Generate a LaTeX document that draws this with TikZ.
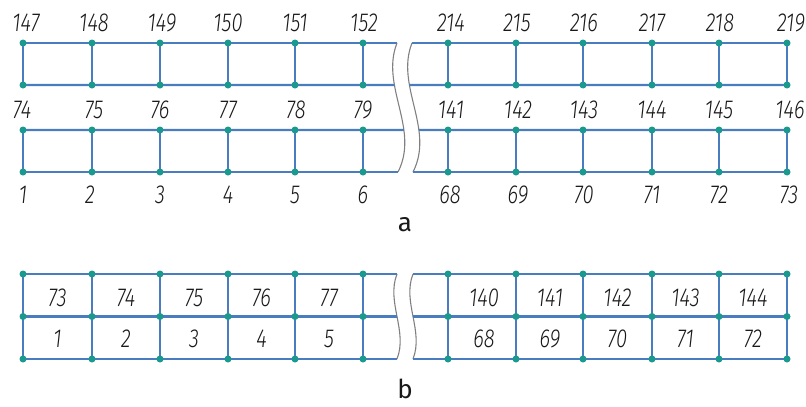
\documentclass[tikz,border=0pt]{standalone}
\usepackage{fontspec}
\setmainfont{Fira Sans}
\newfontfamily\numfont{Fira Sans Light Italic}[FakeStretch=0.78]
\definecolor{gridblue}{HTML}{4A7CC0}
\definecolor{dotteal}{HTML}{1A9A8E}
\definecolor{breakgray}{HTML}{808080}
\tikzset{
  gridline/.style={draw=gridblue, line width=2.2pt},
  brk/.style={draw=breakgray, line width=1.1pt},
  gdot/.style={circle, fill=dotteal, inner sep=0pt, minimum size=7pt},
  num/.style={font=\numfont\fontsize{26}{26}\selectfont, inner sep=0pt, anchor=base, text=black!90},
  figcap/.style={font=\fontsize{26}{26}\selectfont, inner sep=0pt, anchor=base, text=black!90}
}
\begin{document}
\begin{tikzpicture}[x=1pt,y=-1pt]
\useasboundingbox (0,0) rectangle (806,407);

% ---------------- part a: coordinates ----------------
\foreach \x [count=\i] in {23,92,160,228,295,363} {
  \coordinate (aL1-\i) at (\x,43);
  \coordinate (aL2-\i) at (\x,85);
  \coordinate (aL3-\i) at (\x,130);
  \coordinate (aL4-\i) at (\x,172);
}
\foreach \x [count=\i] in {448,516,583,652,719,787} {
  \coordinate (aR1-\i) at (\x,43);
  \coordinate (aR2-\i) at (\x,85);
  \coordinate (aR3-\i) at (\x,130);
  \coordinate (aR4-\i) at (\x,172);
}
% break curves (y linear in parameter)
\draw[brk] (397,43) coordinate (caL1) .. controls (380,86) and (420,129) .. (398,172) coordinate (caL4)
  coordinate[pos=0.3256] (caL2) coordinate[pos=0.6744] (caL3);
\draw[brk] (412,43) coordinate (caR1) .. controls (395,86) and (435,129) .. (413,172) coordinate (caR4)
  coordinate[pos=0.3256] (caR2) coordinate[pos=0.6744] (caR3);

% horizontal lines
\foreach \r in {1,2,3,4} {
  \draw[gridline] (aL\r-1) -- (caL\r);
  \draw[gridline] (caR\r) -- (aR\r-6);
}
% vertical lines
\foreach \i in {1,...,6} {
  \draw[gridline] (aL1-\i) -- (aL2-\i);
  \draw[gridline] (aL3-\i) -- (aL4-\i);
  \draw[gridline] (aR1-\i) -- (aR2-\i);
  \draw[gridline] (aR3-\i) -- (aR4-\i);
}
% dots
\foreach \r in {1,2,3,4} \foreach \i in {1,...,6} {
  \node[gdot] at (aL\r-\i) {};
  \node[gdot] at (aR\r-\i) {};
}
% labels a
\foreach \x/\t in {26/147,94/148,162/149,228/150,295/151,364/152,
                   451/214,517/215,584/216,652/217,720/218,791/219} {
  \node[num] (ta\t) at (\x,31) {\t};
}
\foreach \x/\t in {22/74,94/75,160/76,228/77,296/78,363/79,
                   451/141,518/142,584/143,652/144,719/145,790/146} {
  \node[num] (ma\t) at (\x,118) {\t};
}
\foreach \x/\t in {23/1,90/2,160/3,228/4,295/5,363/6,
                   450/68,518/69,584/70,652/71,719/72,789/73} {
  \node[num] (ba\t) at (\x,203) {\t};
}
\node[figcap] (capa) at (405,231) {a};

% ---------------- part b ----------------
\foreach \x [count=\i] in {23,92,160,228,295,363} {
  \coordinate (bL1-\i) at (\x,274);
  \coordinate (bL2-\i) at (\x,316.5);
  \coordinate (bL3-\i) at (\x,359);
}
\foreach \x [count=\i] in {448,516,583,652,719,787} {
  \coordinate (bR1-\i) at (\x,274);
  \coordinate (bR2-\i) at (\x,316.5);
  \coordinate (bR3-\i) at (\x,359);
}
\draw[brk] (397,274) coordinate (cbL1) .. controls (386,302) and (408,331) .. (397,359) coordinate (cbL3)
  coordinate[pos=0.5] (cbL2);
\draw[brk] (413,274) coordinate (cbR1) .. controls (402,302) and (424,331) .. (413,359) coordinate (cbR3)
  coordinate[pos=0.5] (cbR2);
\foreach \r in {1,2,3} {
  \draw[gridline] (bL\r-1) -- (cbL\r);
  \draw[gridline] (cbR\r) -- (bR\r-6);
}
\foreach \i in {1,...,6} {
  \draw[gridline] (bL1-\i) -- (bL3-\i);
  \draw[gridline] (bR1-\i) -- (bR3-\i);
}
\foreach \r in {1,2,3} \foreach \i in {1,...,6} {
  \node[gdot] at (bL\r-\i) {};
  \node[gdot] at (bR\r-\i) {};
}
\foreach \x/\t/\u in {57.5/73/1,126/74/2,194/75/3,261.5/76/4,329/77/5,
                      484/140/68,550/141/69,617.5/142/70,685.5/143/71,753/144/72} {
  \node[num] (tb\t) at (\x,306) {\t};
  \node[num] (bb\u) at (\x,347) {\u};
}
\node[figcap] (capb) at (405,398) {b};
\end{tikzpicture}
\end{document}
